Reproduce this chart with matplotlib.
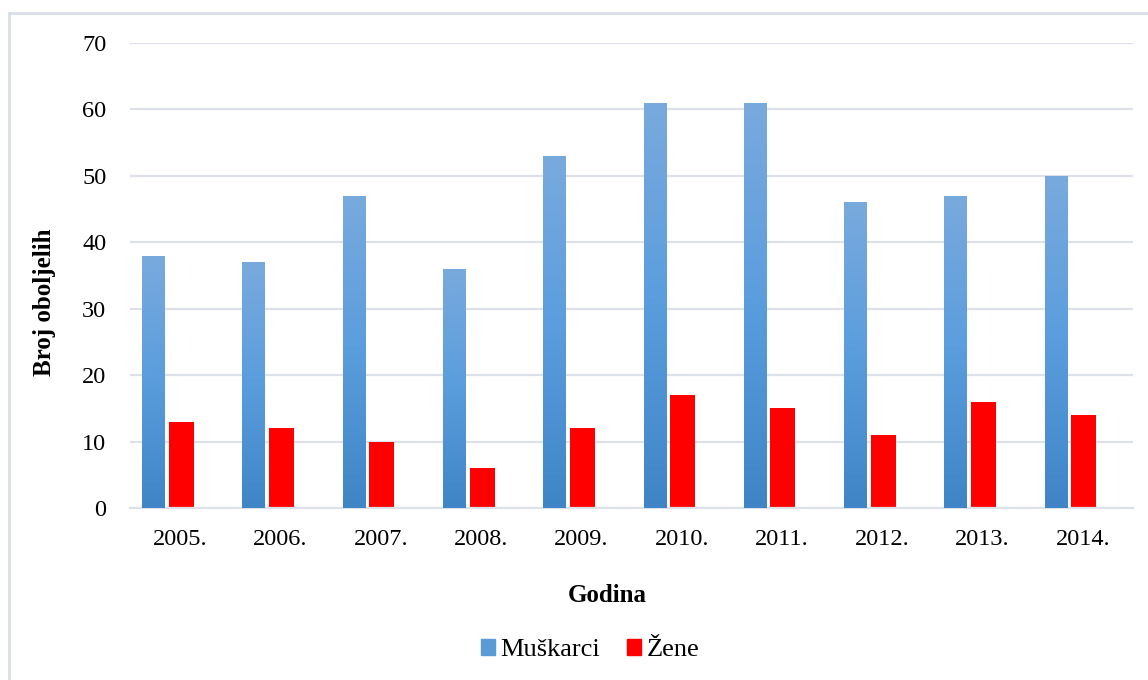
import numpy as np
import matplotlib.pyplot as plt
from matplotlib.colors import LinearSegmentedColormap
from matplotlib.patches import Rectangle, Patch

years = ['2005.', '2006.', '2007.', '2008.', '2009.', '2010.', '2011.', '2012.', '2013.', '2014.']
muskarci = [38, 37, 47, 36, 53, 61, 61, 46, 47, 50]
zene = [13, 12, 10, 6, 12, 17, 15, 11, 16, 14]

plt.rcParams['font.family'] = ['Liberation Serif', 'DejaVu Serif']

fig = plt.figure(figsize=(11.48, 6.8), dpi=100)
# light frame round the chart (runs off the right and bottom edges)
fig.patches.append(Rectangle((9 / 1148, -10 / 680), 1160 / 1148, 677 / 680, transform=fig.transFigure,
                             fill=False, edgecolor='#d9dee6', linewidth=2))
ax = fig.add_axes([130 / 1148, 1 - 508 / 680, (1133 - 130) / 1148, 465 / 680])

x = np.arange(len(years))
blue_bars = ax.bar(x - 0.27, muskarci, width=0.22, color='#5b9bd5', zorder=2)
red_bars = ax.bar(x + 0.01, zene, width=0.25, color='#ff0000', zorder=2)

# vertical gradient on the blue bars
grad = LinearSegmentedColormap.from_list('g', ['#3f85c6', '#5a9ddd', '#79aadd'])
g = np.linspace(0, 1, 256).reshape(-1, 1)
for b in blue_bars:
    x0, w, h = b.get_x(), b.get_width(), b.get_height()
    im = ax.imshow(g, cmap=grad, origin='lower', aspect='auto', extent=(x0, x0 + w, 0, h), zorder=3)
    im.set_clip_path(b)

ax.set_xlim(-0.5, 9.5)
ax.set_ylim(0, 70)
ax.set_yticks(range(0, 71, 10))
ax.set_xticks(x)
ax.set_xticklabels(years)
ax.grid(axis='y', color='#dde1ea', linewidth=1.6, zorder=0)
ax.tick_params(length=0, labelsize=17.5, colors='black')
ax.tick_params(axis='x', pad=15)
ax.tick_params(axis='y', pad=17)
for s in ['top', 'right', 'left']:
    ax.spines[s].set_visible(False)
ax.spines['bottom'].set_color('#dde1ea')
ax.spines['bottom'].set_linewidth(1.6)

fig.text(607 / 1148, 1 - 595 / 680, 'Godina', fontsize=18, fontweight='bold', ha='center', va='center')
fig.text(45 / 1148, 1 - 302 / 680, 'Broj oboljelih', fontsize=18, fontweight='bold',
         rotation=90, ha='center', va='center')

handles = [Patch(color='#5b9bd5'), Patch(color='#ff0000')]
fig.legend(handles, ['Muškarci', 'Žene'], loc='center', bbox_to_anchor=(590 / 1148, 1 - 650 / 680),
           ncol=2, frameon=False, fontsize=19, handlelength=0.55, handleheight=0.55,
           handletextpad=0.2, columnspacing=1.0, borderpad=0)

fig.savefig('out.png', dpi=100)
